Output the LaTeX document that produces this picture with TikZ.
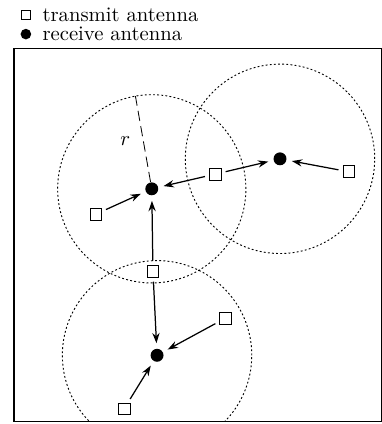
\documentclass[tikz,border=0pt]{standalone}
\usepackage{tikz}
\usetikzlibrary{calc, positioning, arrows.meta}

\begin{document}
\begin{tikzpicture}[
  tx/.style={rectangle, draw, fill=white, minimum size=0.2cm, inner sep=0pt},
  rx/.style={circle, fill=black, minimum size=0.22cm, inner sep=0pt},
  txs/.style={rectangle, draw, minimum size=0.15cm, inner sep=0pt},
  rxs/.style={circle, fill=black, minimum size=0.18cm, inner sep=0pt},
  cell/.style={dash pattern=on 0.9pt off 1.1pt, line width=0.45pt},
  link/.style={-{Stealth[length=5pt,width=3.5pt]}, semithick, shorten <=2pt, shorten >=2.5pt}
]
  \useasboundingbox (0,0) rectangle (6.494,-7.208);

  % legend
  \node[txs] (ltx) at (0.44,-0.26) {};
  \node[rxs] (lrx) at (0.44,-0.58) {};
  \node[anchor=west] at (0.6,-0.26) {transmit antenna};
  \node[anchor=west] at (0.6,-0.58) {receive antenna};

  % area
  \draw[semithick] (0.24,-0.83) rectangle (6.48,-7.16);

  % receivers
  \node[rx] (rx1) at (2.58,-3.21) {};
  \node[rx] (rx2) at (4.76,-2.70) {};
  \node[rx] (rx3) at (2.67,-6.04) {};

  % coverage
  \begin{scope}
    \clip (0.24,-0.83) rectangle (6.48,-7.16);
    \draw[cell] (rx1) circle (1.6);
    \draw[cell] (rx2) circle (1.61);
    \draw[cell] (rx3) circle (1.61);
  \end{scope}

  % radius
  \coordinate (rtop) at ($(rx1)+(100:1.6)$);
  \draw[dash pattern=on 5pt off 2.5pt] (rx1) -- (rtop);
  \node at (2.13,-2.40) {$r$};

  % transmitters
  \node[tx] (tx1) at (1.63,-3.64) {};
  \node[tx] (tx2) at (3.66,-2.96) {};
  \node[tx] (tx3) at (5.93,-2.92) {};
  \node[tx] (tx4) at (2.60,-4.61) {};
  \node[tx] (tx5) at (3.83,-5.41) {};
  \node[tx] (tx6) at (2.11,-6.95) {};

  \draw[link] (tx1) -- (rx1);
  \draw[link] (tx2) -- (rx1);
  \draw[link] (tx2) -- (rx2);
  \draw[link] (tx3) -- (rx2);
  \draw[link] (tx4) -- (rx1);
  \draw[link] (tx4) -- (rx3);
  \draw[link] (tx5) -- (rx3);
  \draw[link] (tx6) -- (rx3);
\end{tikzpicture}
\end{document}
